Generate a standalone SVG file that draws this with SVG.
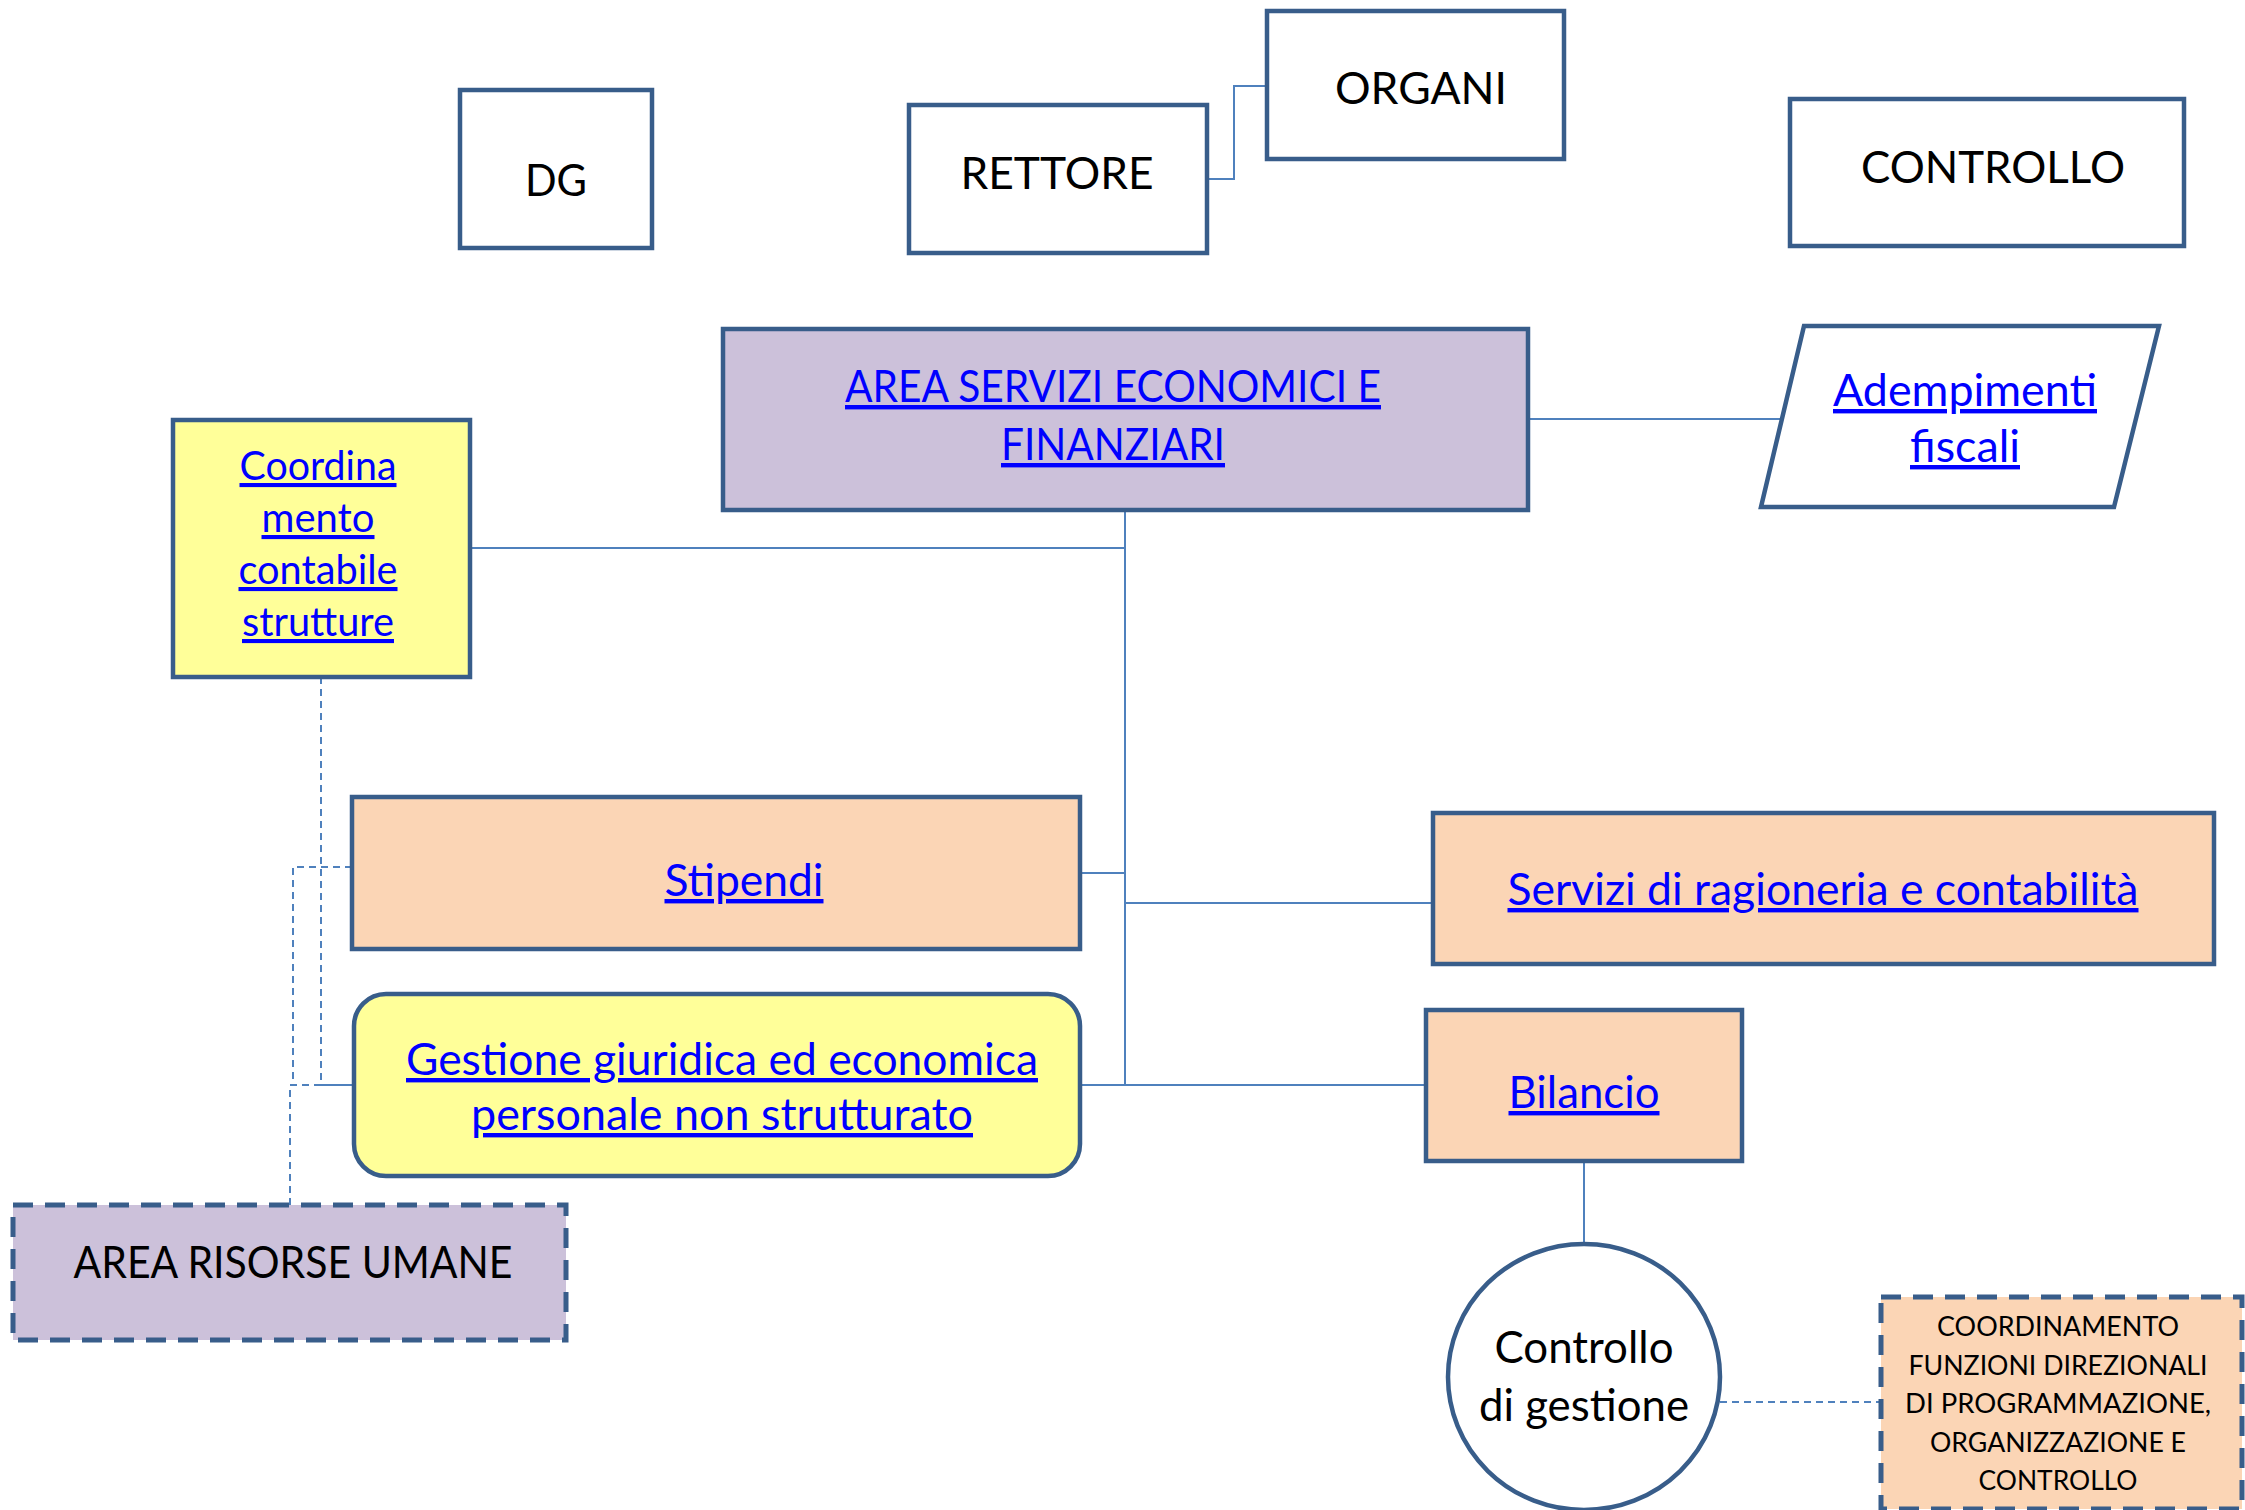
<svg xmlns="http://www.w3.org/2000/svg" width="2245" height="1510" viewBox="0 0 2245 1510">
<style>
.box{stroke:#385D8A;stroke-width:4.5}
.dbox{stroke:#385D8A;stroke-width:5;stroke-dasharray:20 12}
.w{fill:#FFFFFF}.lav{fill:#CCC1DA}.pch{fill:#FBD5B5}.yel{fill:#FFFF99}
.c{fill:none;stroke:#4F81BD;stroke-width:2}
.cd{fill:none;stroke:#4F81BD;stroke-width:2;stroke-dasharray:7 5}
text{font-family:Lato,"Liberation Sans",sans-serif;text-anchor:middle}
.k{fill:#000000;font-size:44px}
.l{fill:#0000FF;font-size:44px;text-decoration:underline}
.l2{fill:#0000FF;font-size:41px;text-decoration:underline}
.s{fill:#000000;font-size:26px}
</style>
<rect width="2245" height="1510" fill="#FFFFFF"/>
<g id="connectors">
<polyline class="c" points="1207,179 1234,179 1234,86 1267,86"/>
<line class="c" x1="1528" y1="419" x2="1783" y2="419"/>
<polyline class="c" points="470,548 1125,548"/>
<line class="c" x1="1125" y1="510" x2="1125" y2="1085"/>
<line class="c" x1="1080" y1="873" x2="1125" y2="873"/>
<line class="c" x1="1125" y1="903" x2="1433" y2="903"/>
<line class="c" x1="1080" y1="1085" x2="1426" y2="1085"/>
<line class="c" x1="1584" y1="1161" x2="1584" y2="1244"/>
<line class="cd" x1="1720" y1="1402" x2="1881" y2="1402"/>
<polyline class="cd" points="321,677 321,1085 354,1085"/>
<polyline class="cd" points="352,867 293,867 293,1085"/>
<polyline class="cd" points="290,1205 290,1085 354,1085"/>
</g>
<g id="dg"><rect class="box w" x="460" y="90" width="192" height="158"/><text class="k" x="556" y="196" textLength="62" lengthAdjust="spacingAndGlyphs">DG</text></g>
<g id="rettore"><rect class="box w" x="909" y="105" width="298" height="148"/><text class="k" x="1057" y="189" textLength="193" lengthAdjust="spacingAndGlyphs">RETTORE</text></g>
<g id="organi"><rect class="box w" x="1267" y="11" width="297" height="148"/><text class="k" x="1421" y="104" textLength="172" lengthAdjust="spacingAndGlyphs">ORGANI</text></g>
<g id="controllo"><rect class="box w" x="1790" y="99" width="394" height="147"/><text class="k" x="1993" y="183" textLength="264" lengthAdjust="spacingAndGlyphs">CONTROLLO</text></g>
<g id="area-servizi"><rect class="box lav" x="723" y="329" width="805" height="181"/><text class="l" x="1113" y="402" textLength="536" lengthAdjust="spacingAndGlyphs">AREA SERVIZI ECONOMICI E</text><text class="l" x="1113" y="460" textLength="224" lengthAdjust="spacingAndGlyphs">FINANZIARI</text></g>
<g id="adempimenti"><polygon class="box w" points="1804,326 2159,326 2114,507 1761,507"/><text class="l" x="1965" y="406" textLength="264" lengthAdjust="spacingAndGlyphs">Adempimenti</text><text class="l" x="1965" y="462" textLength="110" lengthAdjust="spacingAndGlyphs">fiscali</text></g>
<g id="coordinamento-contabile"><rect class="box yel" x="173" y="420" width="297" height="257"/><text class="l2" x="318" y="480" textLength="157" lengthAdjust="spacingAndGlyphs">Coordina</text><text class="l2" x="318" y="532" textLength="113" lengthAdjust="spacingAndGlyphs">mento</text><text class="l2" x="318" y="584" textLength="159" lengthAdjust="spacingAndGlyphs">contabile</text><text class="l2" x="318" y="636" textLength="152" lengthAdjust="spacingAndGlyphs">strutture</text></g>
<g id="stipendi"><rect class="box pch" x="352" y="797" width="728" height="152"/><text class="l" x="744" y="896" textLength="159" lengthAdjust="spacingAndGlyphs">Stipendi</text></g>
<g id="gestione"><rect class="box yel" x="354" y="994" width="726" height="182" rx="32"/><text class="l" x="722" y="1075" textLength="632" lengthAdjust="spacingAndGlyphs">Gestione giuridica ed economica</text><text class="l" x="722" y="1130" textLength="502" lengthAdjust="spacingAndGlyphs">personale non strutturato</text></g>
<g id="area-risorse-umane"><rect class="dbox lav" x="13" y="1205" width="553" height="135"/><text class="k" x="293" y="1278" textLength="439" lengthAdjust="spacingAndGlyphs">AREA RISORSE UMANE</text></g>
<g id="servizi-ragioneria"><rect class="box pch" x="1433" y="813" width="781" height="151"/><text class="l" x="1823" y="905" textLength="631" lengthAdjust="spacingAndGlyphs">Servizi di ragioneria e contabilità</text></g>
<g id="bilancio"><rect class="box pch" x="1426" y="1010" width="316" height="151"/><text class="l" x="1584" y="1108" textLength="151" lengthAdjust="spacingAndGlyphs">Bilancio</text></g>
<g id="controllo-gestione"><ellipse class="box w" cx="1584" cy="1377" rx="136" ry="133"/><text class="k" x="1584" y="1363" textLength="179" lengthAdjust="spacingAndGlyphs">Controllo</text><text class="k" x="1584" y="1421" textLength="210" lengthAdjust="spacingAndGlyphs">di gestione</text></g>
<g id="coordinamento-funzioni"><rect class="dbox pch" x="1881" y="1297" width="361" height="212"/><text class="s" x="2058" y="1336" textLength="242" lengthAdjust="spacingAndGlyphs">COORDINAMENTO</text><text class="s" x="2058" y="1375" textLength="299" lengthAdjust="spacingAndGlyphs">FUNZIONI DIREZIONALI</text><text class="s" x="2058" y="1413" textLength="306" lengthAdjust="spacingAndGlyphs">DI PROGRAMMAZIONE,</text><text class="s" x="2058" y="1452" textLength="256" lengthAdjust="spacingAndGlyphs">ORGANIZZAZIONE E</text><text class="s" x="2058" y="1490" textLength="159" lengthAdjust="spacingAndGlyphs">CONTROLLO</text></g>
</svg>
